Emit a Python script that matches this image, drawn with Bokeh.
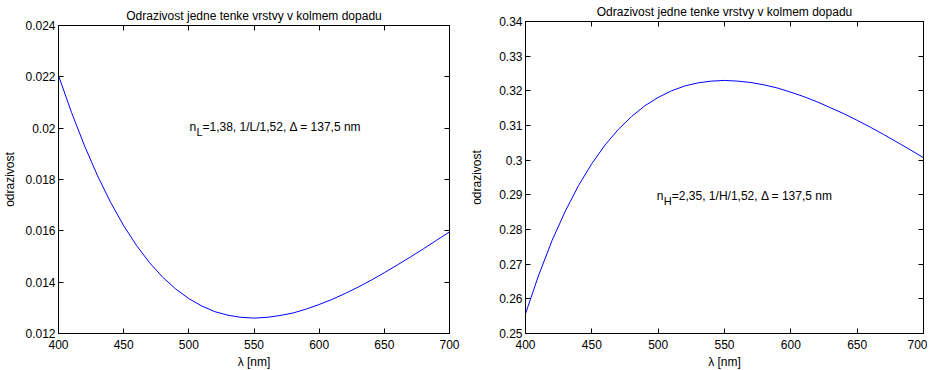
from bokeh.plotting import figure
from bokeh.models import Range1d, FixedTicker, LinearAxis, Label
from bokeh.layouts import row, column
from bokeh.embed import file_html
from bokeh.resources import INLINE

# ---- data ----
wavelength = [400, 410, 420, 430, 440, 450, 460, 470, 480, 490, 500,
              510, 520, 530, 540, 550, 560, 570, 580, 590, 600,
              610, 620, 630, 640, 650, 660, 670, 680, 690, 700]

refl_L = [0.02205, 0.02061, 0.01931, 0.01814, 0.01711, 0.01620, 0.01542,
          0.01475, 0.01419, 0.01373, 0.01336, 0.01307, 0.01285, 0.01271,
          0.01263, 0.01260, 0.01263, 0.01270, 0.01280, 0.01295, 0.01313,
          0.01333, 0.01356, 0.01381, 0.01408, 0.01437, 0.01467, 0.01498,
          0.01530, 0.01563, 0.01596]

refl_H = [0.2557, 0.2669, 0.2768, 0.2853, 0.2927, 0.2990, 0.3044, 0.3089,
          0.3126, 0.3157, 0.3181, 0.3200, 0.3214, 0.3223, 0.3228, 0.3230,
          0.3228, 0.3224, 0.3217, 0.3208, 0.3196, 0.3183, 0.3168, 0.3151,
          0.3134, 0.3115, 0.3095, 0.3074, 0.3052, 0.3030, 0.3007]

x_ticks = [400, 450, 500, 550, 600, 650, 700]
x_tick_labels = ["400", "450", "500", "550", "600", "650", "700"]

yL_ticks = [0.012, 0.014, 0.016, 0.018, 0.020, 0.022, 0.024]
yL_tick_labels = ["0.012", "0.014", "0.016", "0.018", "0.02", "0.022", "0.024"]

yH_ticks = [0.25, 0.26, 0.27, 0.28, 0.29, 0.30, 0.31, 0.32, 0.33, 0.34]
yH_tick_labels = ["0.25", "0.26", "0.27", "0.28", "0.29", "0.3", "0.31", "0.32", "0.33", "0.34"]

title_text = "Odrazivost jedne tenke vrstvy v kolmem dopadu"
x_label = "λ [nm]"
y_label = "odrazivost"

note_L = ("n", "L", "=1,38, 1/L/1,52, Δ = 137,5 nm")
note_H = ("n", "H", "=2,35, 1/H/1,52, Δ = 137,5 nm")

FONT = "Liberation Sans"
FS = "12px"


def style_axis(ax, ticks, labels, show_labels=True):
    ax.ticker = FixedTicker(ticks=ticks)
    ax.major_label_overrides = {t: l for t, l in zip(ticks, labels)}
    ax.major_tick_in = 5
    ax.major_tick_out = 0
    ax.minor_tick_in = 0
    ax.minor_tick_out = 0
    ax.axis_line_color = "black"
    ax.major_tick_line_color = "black"
    ax.major_label_text_font = FONT
    ax.major_label_text_font_size = FS if show_labels else "0px"
    ax.major_label_text_color = "black"
    ax.major_label_standoff = 3 if show_labels else 0
    ax.axis_label_text_font = FONT
    ax.axis_label_text_font_size = FS
    ax.axis_label_text_font_style = "normal"
    ax.axis_label_text_color = "black"


def make_fig(y, ylo, yhi, yticks, ylabels, fw, fh, bl, br, bt, ylab_standoff, title_standoff,
             note, note_x, note_y, sub_dx, rest_dx):
    p = figure(frame_width=fw, frame_height=fh,
               x_range=Range1d(400, 700), y_range=Range1d(ylo, yhi),
               output_backend="svg", toolbar_location=None,
               min_border_left=bl, min_border_right=br,
               min_border_top=bt, min_border_bottom=37,
               x_axis_label=x_label, y_axis_label=y_label)
    p.grid.visible = False
    p.outline_line_color = "black"
    p.outline_line_width = 1
    p.background_fill_color = "white"
    p.border_fill_color = "white"

    style_axis(p.xaxis[0], x_ticks, x_tick_labels)
    style_axis(p.yaxis[0], yticks, ylabels)
    p.xaxis[0].major_label_standoff = 6
    p.xaxis[0].axis_label_standoff = 3
    p.yaxis[0].axis_label_standoff = ylab_standoff

    top = LinearAxis()
    style_axis(top, x_ticks, ["" for _ in x_ticks], show_labels=False)
    p.add_layout(top, "above")
    right = LinearAxis()
    style_axis(right, yticks, ["" for _ in yticks], show_labels=False)
    p.add_layout(right, "right")

    p.title.text = title_text
    p.title.align = "center"
    p.title.text_font = FONT
    p.title.text_font_size = FS
    p.title.text_font_style = "normal"
    p.title.text_color = "black"
    p.title.standoff = title_standoff

    p.line(wavelength, y, line_color="#0000ff", line_width=1)

    base, sub, rest = note
    p.add_layout(Label(x=note_x, y=note_y, text=base, text_font=FONT,
                       text_font_size=FS, text_baseline="alphabetic", text_color="black"))
    p.add_layout(Label(x=note_x, y=note_y, x_offset=sub_dx, y_offset=-5, text=sub,
                       text_font=FONT, text_font_size="11px", text_baseline="alphabetic",
                       text_color="black"))
    p.add_layout(Label(x=note_x, y=note_y, x_offset=rest_dx, text=rest, text_font=FONT,
                       text_font_size=FS, text_baseline="alphabetic", text_color="black"))
    return p


p1 = make_fig(refl_L, 0.012, 0.024, yL_ticks, yL_tick_labels,
              391, 308, 51, 18, 25, 5, 6, note_L, 500.5, 0.02006, 7, 13)
p2 = make_fig(refl_H, 0.25, 0.34, yH_ticks, yH_tick_labels,
              398, 312, 53, 4, 25, 12, 6, note_H, 499.0, 0.2897, 7, 15)

right_col = column(p2, styles={"position": "relative", "top": "-4px"})
layout = row(p1, right_col)
open("out.html", "w").write(file_html(layout, INLINE))
